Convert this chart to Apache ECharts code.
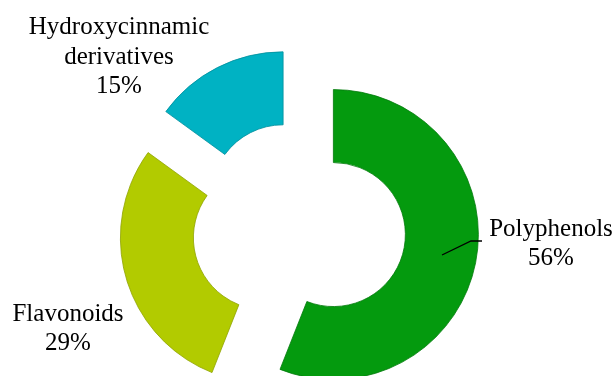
<!DOCTYPE html>
<html>
<head>
<meta charset="utf-8">
<script src="https://cdn.jsdelivr.net/npm/echarts@6/dist/echarts.min.js"></script>
<style>
html,body{margin:0;padding:0;background:#fff;}
#chart{width:616px;height:376px;}
</style>
</head>
<body>
<div id="chart"></div>
<script>
var categories = ['Polyphenols', 'Flavonoids', 'Hydroxycinnamic\nderivatives'];
var values = [56, 29, 15];
var colors = ['#049A0E', '#B2CB00', '#00B2C3'];
var borders = ['#037A0B', '#8FA300', '#008E9C'];

var chart = echarts.init(document.getElementById('chart'), null, {renderer: 'canvas'});

var labelPos = [
  [551, 244],
  [68, 329],
  [119, 57]
];
var FONT = '25px "Liberation Serif", "Times New Roman", serif';

var data = categories.map(function (c, i) {
  return {
    name: c,
    value: values[i],
    selected: true,
    itemStyle: {color: colors[i], borderColor: borders[i], borderWidth: 0.8}
  };
});

var graphics = categories.map(function (c, i) {
  return {
    type: 'text',
    x: labelPos[i][0],
    y: labelPos[i][1],
    z: 100,
    silent: true,
    style: {
      text: c + '\n' + values[i] + '%',
      font: FONT,
      lineHeight: 29.5,
      fill: '#000',
      align: 'center',
      verticalAlign: 'middle'
    }
  };
});
graphics.push({
  type: 'polyline',
  z: 100,
  silent: true,
  shape: {points: [[442, 255], [471, 241], [482, 241]]},
  style: {stroke: '#000', lineWidth: 1.3, fill: null}
});

chart.setOption({
  animation: false,
  series: [{
    type: 'pie',
    z: 1,
    center: [299, 228],
    radius: [72, 145],
    startAngle: 90,
    clockwise: true,
    selectedMode: 'multiple',
    selectedOffset: 35,
    data: data,
    label: {show: false},
    labelLine: {show: false},
    emphasis: {disabled: true}
  }],
  graphic: graphics
});
</script>
</body>
</html>
